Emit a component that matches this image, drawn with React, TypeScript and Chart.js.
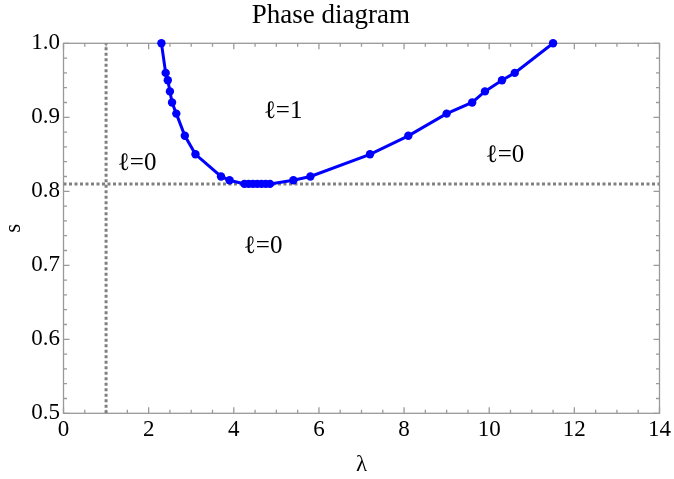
import React, { useEffect, useRef } from "react";
import { Chart, registerables } from "chart.js";

Chart.register(...registerables);

// Phase boundary (λ, s)
const lambdaValues = [
  2.3, 2.4, 2.45, 2.5, 2.55, 2.65, 2.85, 3.1, 3.7, 3.9,
  4.25, 4.35, 4.45, 4.55, 4.65, 4.75, 4.85,
  5.4, 5.8, 7.2, 8.1, 9.0, 9.6, 9.9, 10.3, 10.6, 11.5,
];
const sValues = [
  1.0, 0.96, 0.95, 0.935, 0.92, 0.905, 0.875, 0.85, 0.82, 0.815,
  0.81, 0.81, 0.81, 0.81, 0.81, 0.81, 0.81,
  0.815, 0.82, 0.85, 0.875, 0.905, 0.92, 0.935, 0.95, 0.96, 1.0,
];

// Dotted reference lines
const verticalLineLambda = [1, 1];
const verticalLineS = [0.5, 1.0];
const horizontalLineLambda = [0, 14];
const horizontalLineS = [0.81, 0.81];

// Axis ranges / ticks
const xMin = 0;
const xMax = 14;
const xStep = 2;
const yMin = 0.5;
const yMax = 1.0;
const yStep = 0.1;

// Region labels
const regionLabels = ["ℓ=0", "ℓ=1", "ℓ=0", "ℓ=0"];
const regionLambda = [1.73, 5.16, 4.69, 10.37];
const regionS = [0.837, 0.9085, 0.726, 0.849];

const SERIF = '"Liberation Serif", "DejaVu Serif", "Times New Roman", serif';

const framePlugin = {
  id: "frameTicks",
  beforeDatasetsDraw(chart: any) {
    const { ctx, chartArea, scales } = chart;
    const { left, right, top, bottom } = chartArea;
    const xs = scales.x;
    const ys = scales.y;
    ctx.save();
    ctx.strokeStyle = "#9a9a9a";
    ctx.lineWidth = 1.3;
    ctx.strokeRect(left, top, right - left, bottom - top);
    ctx.beginPath();
    const nx = Math.round((xMax - xMin) / 0.5);
    for (let i = 0; i <= nx; i++) {
      const v = xMin + i * 0.5;
      const px = xs.getPixelForValue(v);
      const len = i % 4 === 0 ? 6 : 3.5;
      ctx.moveTo(px, bottom);
      ctx.lineTo(px, bottom - len);
      ctx.moveTo(px, top);
      ctx.lineTo(px, top + len);
    }
    const ny = Math.round((yMax - yMin) / 0.02);
    for (let i = 0; i <= ny; i++) {
      const v = yMin + i * 0.02;
      const py = ys.getPixelForValue(v);
      const len = i % 5 === 0 ? 6 : 3.5;
      ctx.moveTo(left, py);
      ctx.lineTo(left + len, py);
      ctx.moveTo(right, py);
      ctx.lineTo(right - len, py);
    }
    ctx.stroke();
    ctx.restore();
  },
  afterDatasetsDraw(chart: any) {
    const { ctx, scales } = chart;
    const xs = scales.x;
    const ys = scales.y;
    ctx.save();
    ctx.fillStyle = "#000";
    ctx.textAlign = "center";
    ctx.textBaseline = "middle";
    ctx.font = `25px ${SERIF}`;
    regionLabels.forEach((t, i) => {
      ctx.fillText(t, xs.getPixelForValue(regionLambda[i]), ys.getPixelForValue(regionS[i]));
    });
    ctx.restore();
  },
};

export default function App() {
  const canvasRef = useRef<HTMLCanvasElement | null>(null);

  useEffect(() => {
    const canvas = canvasRef.current;
    if (!canvas) return;
    const curve = lambdaValues.map((x, i) => ({ x, y: sValues[i] }));
    const vLine = verticalLineLambda.map((x, i) => ({ x, y: verticalLineS[i] }));
    const hLine = horizontalLineLambda.map((x, i) => ({ x, y: horizontalLineS[i] }));

    const chart = new Chart(canvas, {
      type: "scatter",
      data: {
        datasets: [
          {
            data: curve,
            showLine: true,
            borderColor: "#0000ff",
            backgroundColor: "#0000ff",
            borderWidth: 3,
            pointRadius: 4.2,
            pointBorderWidth: 0,
            clip: false,
            order: 0,
          },
          {
            data: hLine,
            showLine: true,
            borderColor: "#808080",
            borderWidth: 3,
            borderDash: [3, 2.5],
            pointRadius: 0,
            order: 1,
          },
          {
            data: vLine,
            showLine: true,
            borderColor: "#808080",
            borderWidth: 3,
            borderDash: [3, 2.5],
            pointRadius: 0,
            order: 1,
          },
        ],
      },
      options: {
        responsive: false,
        animation: false,
        layout: { padding: { left: 0, right: 12.3, top: 0, bottom: 0 } },
        plugins: {
          legend: { display: false },
          tooltip: { enabled: false },
          title: {
            display: true,
            text: "Phase diagram",
            color: "#000",
            font: { family: SERIF, size: 27, weight: "normal" },
            padding: { top: 0, bottom: 10.9 },
          },
        },
        scales: {
          x: {
            type: "linear",
            min: xMin,
            max: xMax,
            grid: { display: false, drawTicks: false },
            border: { display: false },
            ticks: {
              stepSize: xStep,
              color: "#000",
              font: { family: SERIF, size: 23 },
              padding: 3,
              maxRotation: 0,
              autoSkip: false,
            },
            title: {
              display: true,
              text: "λ",
              color: "#000",
              font: { family: SERIF, size: 23 },
              padding: { top: 0, bottom: 0 },
            },
            afterFit: (scale: any) => {
              scale.height = 65.7;
            },
          },
          y: {
            type: "linear",
            min: yMin,
            max: yMax,
            grid: { display: false, drawTicks: false },
            border: { display: false },
            ticks: {
              stepSize: yStep,
              color: "#000",
              font: { family: SERIF, size: 23 },
              padding: 3.5,
              callback: (v: any) => Number(v).toFixed(1),
            },
            title: {
              display: true,
              text: "s",
              color: "#000",
              font: { family: SERIF, size: 23 },
              padding: { top: 0, bottom: 0 },
            },
            afterFit: (scale: any) => {
              scale.width = 63.5;
            },
          },
        },
      },
      plugins: [framePlugin],
    });
    return () => chart.destroy();
  }, []);

  return (
    <div style={{ position: "fixed", left: 0, top: 0, width: 674, height: 479, background: "#fff" }}>
      <canvas ref={canvasRef} width={674} height={479} style={{ width: 674, height: 479, display: "block" }} />
    </div>
  );
}
